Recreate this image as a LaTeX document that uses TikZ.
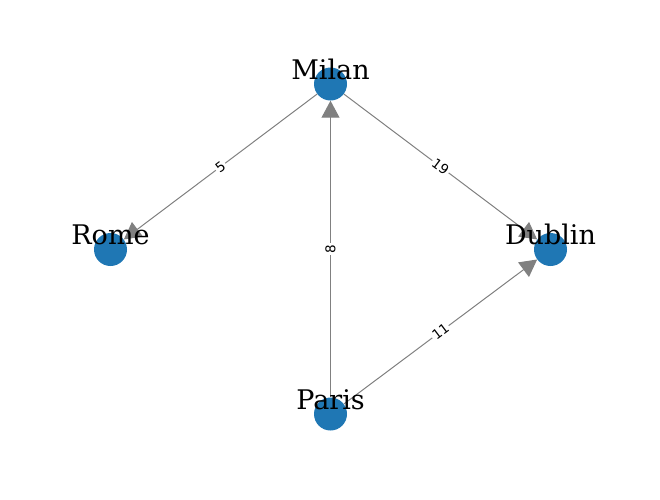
\documentclass[tikz,border=0pt]{standalone}
\usepackage{fontspec}
\usetikzlibrary{arrows.meta,calc}
\newfontfamily\labfont{DejaVu Serif}
\newfontfamily\edgefont{DejaVu Sans}
\definecolor{nodeblue}{HTML}{1F77B4}
\definecolor{edgegray}{HTML}{808080}
\tikzset{
  city/.style={circle, fill=nodeblue, minimum size=33pt, inner sep=0pt},
  citylabel/.style={anchor=base, inner sep=0pt, font=\labfont\fontsize{27}{29}\selectfont},
  link/.style={draw=edgegray, line width=1pt, -{Triangle[length=17pt, width=18pt]}, shorten >=0pt},
  weight/.style={fill=white, inner sep=1.5pt, font=\edgefont\fontsize{13.5}{15}\selectfont, text=black}
}
\begin{document}
\begin{tikzpicture}[x=1pt, y=-1pt]
\useasboundingbox (0,0) rectangle (660,499);
\coordinate (cM) at (330.5,84);
\coordinate (cR) at (110.5,249.5);
\coordinate (cD) at (550.5,249.5);
\coordinate (cP) at (330.5,414);
% invisible node outlines for edge clipping
\node[circle, minimum size=33pt, inner sep=0pt] (Milan) at (cM) {};
\node[circle, minimum size=33pt, inner sep=0pt] (Rome) at (cR) {};
\node[circle, minimum size=33pt, inner sep=0pt] (Dublin) at (cD) {};
\node[circle, minimum size=33pt, inner sep=0pt] (Paris) at (cP) {};
% edges
\draw[link] (Milan) -- (Rome);
\draw[link] (Milan) -- (Dublin);
\draw[link] (Paris) -- (Milan);
\draw[link] (Paris) -- (Dublin);
% node disks
\node[city] (dM) at (cM) {};
\node[city] (dR) at (cR) {};
\node[city] (dD) at (cD) {};
\node[city] (dP) at (cP) {};
% edge weights
\node[weight, rotate=37] (w5) at ($(cM)!0.5!(cR)$) {5};
\node[weight, rotate=-37] (w19) at ($(cM)!0.5!(cD)$) {19};
\node[weight, rotate=90] (w8) at ($(cP)!0.5!(cM)$) {8};
\node[weight, rotate=37] (w11) at ($(cP)!0.5!(cD)$) {11};
% city labels
\node[citylabel] (lM) at (330.5,79) {Milan};
\node[citylabel] (lR) at (110.5,244) {Rome};
\node[citylabel] (lD) at (550.5,244) {Dublin};
\node[citylabel] (lP) at (330.5,409) {Paris};
\end{tikzpicture}
\end{document}
